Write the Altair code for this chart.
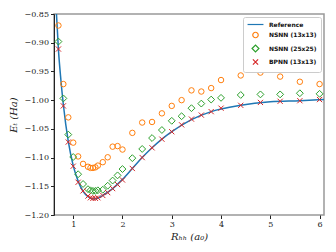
import altair as alt
import pandas as pd

# Shared sample positions R_HH (a0)
r_pts = [0.7, 0.8, 0.9, 1.0, 1.1, 1.2, 1.3, 1.35, 1.4, 1.45, 1.5, 1.6, 1.7, 1.8, 1.9,
         2.0, 2.2, 2.4, 2.6, 2.8, 3.0, 3.2, 3.4, 3.6, 3.8, 4.0, 4.4, 4.8, 5.2, 5.6, 6.0]

nsnn13 = [-0.870, -0.972, -1.030, -1.074, -1.098, -1.111, -1.116, -1.118, -1.118, -1.117,
          -1.114, -1.108, -1.0995, -1.081, -1.080, -1.086, -1.057, -1.039, -1.038, -1.023,
          -1.010, -1.000, -0.983, -0.985, -0.979, -0.965, -0.957, -0.952, -0.959, -0.968, -0.972]

nsnn25 = [-0.898, -0.997, -1.060, -1.099, -1.129, -1.146, -1.155, -1.157, -1.158, -1.158,
          -1.157, -1.156, -1.149, -1.140, -1.131, -1.120, -1.101, -1.085, -1.066, -1.052,
          -1.036, -1.028, -1.014, -1.006, -0.999, -0.996, -0.991, -0.990, -0.990, -0.988, -0.989]

bpnn13 = [-0.911, -1.010, -1.073, -1.115, -1.143, -1.158, -1.167, -1.170, -1.171, -1.171,
          -1.170, -1.166, -1.161, -1.154, -1.147, -1.139, -1.119, -1.100, -1.083, -1.068,
          -1.055, -1.043, -1.033, -1.026, -1.020, -1.014, -1.009, -1.004, -1.002, -1.001, -0.999]

# Reference curve
r_ref = [0.66, 0.7, 0.75, 0.8, 0.9, 1.0, 1.1, 1.2, 1.3, 1.4, 1.5, 1.6, 1.8, 2.0, 2.2, 2.4,
         2.6, 2.8, 3.0, 3.4, 3.8, 4.4, 5.0, 5.6, 6.09]
e_ref = [-0.850, -0.912, -0.965, -1.008, -1.072, -1.114, -1.141, -1.159, -1.168, -1.172,
         -1.171, -1.166, -1.154, -1.138, -1.119, -1.100, -1.083, -1.068, -1.055, -1.034,
         -1.020, -1.009, -1.003, -1.001, -0.999]

series_names = ["Reference", "NSNN (13x13)", "NSNN (25x25)", "BPNN (13x13)"]
colors = ["#1f77b4", "#ff7f0e", "#2ca02c", "#d62728"]
shapes = ["M-2.9,0L2.9,0", "circle", "M-1.25,0L0,-1.25L1.25,0L0,1.25Z",
          "M-0.95,-0.95L0.95,0.95M-0.95,0.95L0.95,-0.95"]

ref_df = pd.DataFrame({"R": r_ref, "E": e_ref})
pts_rows = []
for name, vals in zip(series_names[1:], [nsnn13, nsnn25, bpnn13]):
    for r, e in zip(r_pts, vals):
        pts_rows.append({"R": r, "E": e, "series": name})
pts_df = pd.DataFrame(pts_rows)

y_ticks = [-1.20, -1.15, -1.10, -1.05, -1.00, -0.95, -0.90, -0.85]

x_enc = alt.X("R:Q", scale=alt.Scale(domain=[0.61, 6.09], nice=False, zero=False),
              axis=alt.Axis(values=[1, 2, 3, 4, 5, 6], format="d",
                            title="Rₕₕ (a₀)", grid=False))
y_enc = alt.Y("E:Q", scale=alt.Scale(domain=[-1.2, -0.85], nice=False, zero=False),
              axis=alt.Axis(values=y_ticks, grid=False, title="Eₜ (Ha)",
                            labelExpr="replace(format(datum.value, '.2f'), '-', '−')"))

line = alt.Chart(ref_df).mark_line(clip=True, strokeWidth=1.5, interpolate="monotone").encode(
    x=x_enc, y=y_enc, color=alt.value("#1f77b4")
)

points = alt.Chart(pts_df).mark_point(filled=False, strokeWidth=1, clip=True, opacity=1,
                                      size=30).encode(
    x=x_enc, y=y_enc,
    color=alt.Color("series:N", scale=alt.Scale(domain=series_names, range=colors),
                    legend=alt.Legend(title=None, orient="top-right", offset=3)),
    shape=alt.Shape("series:N", scale=alt.Scale(domain=series_names, range=shapes),
                    legend=alt.Legend(title=None, orient="top-right", offset=3)),
)

chart = alt.layer(line, points).properties(
    width=270, height=201,
    padding={"left": 46, "top": 6, "right": 4, "bottom": 29},
    autosize="none",
).configure_view(
    stroke="#999999", strokeWidth=1.5
).configure_axis(
    labelFont="DejaVu Serif", labelFontSize=8, labelColor="#222",
    titleFont="DejaVu Serif", titleFontSize=10, titleFontWeight="normal",
    titleFontStyle="italic", titleColor="#222",
    tickColor="#222", tickSize=3.5, domainColor="#222", domainWidth=1,
    labelPadding=2,
).configure_axisX(
    titlePadding=3, domain=False
).configure_axisY(
    titlePadding=5
).configure_legend(
    labelFont="DejaVu Sans", labelFontSize=6, labelFontWeight="bold", labelColor="#111",
    fillColor="white", strokeColor="#cccccc", cornerRadius=2,
    padding=4, rowPadding=1.5, symbolSize=30, symbolStrokeWidth=1.2,
    labelOffset=10, symbolOffset=5,
)

chart.save("out.html", embed_options={"renderer": "svg", "actions": False})
